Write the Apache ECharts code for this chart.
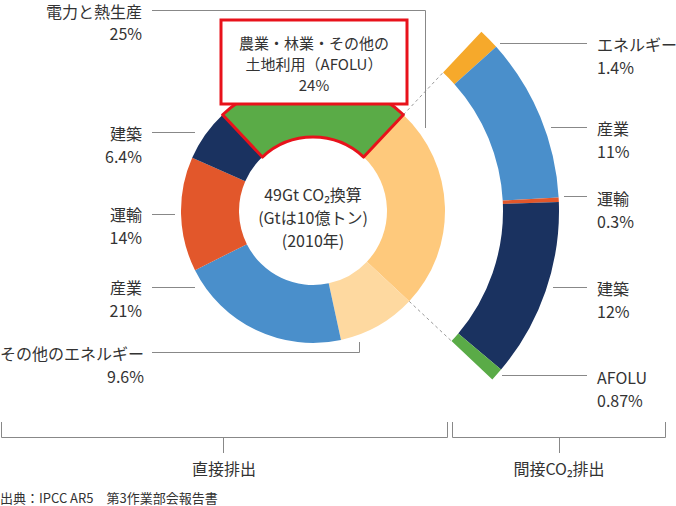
<!DOCTYPE html>
<html><head><meta charset="utf-8">
<script src="https://cdn.jsdelivr.net/npm/echarts@6/dist/echarts.min.js"></script>
<style>html,body{margin:0;padding:0;background:#fff}#c{width:676px;height:506px}</style>
</head><body><div id="c"></div>
<script>
// ---- data ----
const mainCategories = ['電力と熱生産', 'その他のエネルギー', '産業', '運輸', '建築', '農業・林業・その他の\n土地利用（AFOLU）'];
const mainValues = [25, 9.6, 21, 14, 6.4, 24];
const indirectCategories = ['エネルギー', '産業', '運輸', '建築', 'AFOLU'];
const indirectValues = [1.4, 11, 0.3, 12, 0.87];
const centerLines = ['49Gt CO₂換算', '(Gtは10億トン)', '(2010年)'];
const groupLabels = ['直接排出', '間接CO₂排出'];
const sourceText = '出典：IPCC AR5　第3作業部会報告書';

// ---- styles / layout ----
const FONT = "'Noto Sans CJK JP', 'Noto Sans', sans-serif";
const TXT = '#333';
const LINE = '#888';
const RED = '#e8121b';
const mainColors = ['#fec97c', '#fed9a0', '#4a8fcb', '#e2572b', '#1a3260', '#5aab47'];
const indirectColors = ['#f6a92b', '#4a8fcb', '#e2572b', '#1a3260', '#5aab47'];
const CX = 313, CY = 211;
const R_MAIN = [74, 132], R_ARC = [190, 246];

const mainLabelPos = [
  { x: 142, y: 0, align: 'right', line: [[425.5, 128], [425.5, 10.5], [152, 10.5]] },
  { x: 144, y: 341.5, align: 'right', line: [[359.5, 342], [359.5, 352.5], [152, 352.5]] },
  { x: 142, y: 275.5, align: 'right', line: [[195, 287.5], [173, 287.5], [152, 287.5]] },
  { x: 142, y: 202.5, align: 'right', line: [[175, 214.5], [163, 214.5], [152, 214.5]] },
  { x: 142, y: 121.5, align: 'right', line: [[195, 132.5], [173, 132.5], [152, 132.5]] },
  { x: 314, y: 21.5, align: 'center', line: [[314, 117], [314, 110], [314, 103]] }
];
const arcLabelPos = [
  { x: 597, y: 32.5, line: [[500, 43.5], [543, 43.5], [587, 43.5]] },
  { x: 597, y: 116.5, line: [[551, 127.5], [569, 127.5], [587, 127.5]] },
  { x: 597, y: 186.5, line: [[564, 196.5], [575, 196.5], [587, 196.5]] },
  { x: 597, y: 276.5, line: [[553, 287.5], [570, 287.5], [587, 287.5]] },
  { x: 597, y: 365.5, line: [[502, 375.5], [545, 375.5], [587, 375.5]] }
];

// angles derived from data
const mainTotal = mainValues.reduce((a, b) => a + b, 0);
const afoluIdx = mainValues.length - 1;
const startAngle = 90 - mainValues[afoluIdx] / mainTotal * 360 / 2;
const elecSpan = mainValues[0] / mainTotal * 360;
const elecEnd = startAngle - elecSpan;
const arcSum = indirectValues.reduce((a, b) => a + b, 0);
const arcFiller = arcSum * (360 - elecSpan) / elecSpan;

const mainData = mainCategories.map((n, i) => {
  const d = { name: n, value: mainValues[i], itemStyle: { color: mainColors[i] } };
  if (i === 0) {
    d.label = { lineHeight: 22 };
  }
  if (i === afoluIdx) {
    d.itemStyle.borderColor = RED;
    d.itemStyle.borderWidth = 3;
    d.label = {
      backgroundColor: '#fff', borderColor: RED, borderWidth: 3,
      padding: [10, 0, 8, 0], width: 183, align: 'center',
      fontSize: 15, lineHeight: 21
    };
    d.labelLine = { lineStyle: { color: RED, width: 3 } };
  }
  return d;
});
const arcData = indirectCategories.map((n, i) => ({ name: n, value: indirectValues[i], itemStyle: { color: indirectColors[i] } }));
arcData.push({ name: '', value: arcFiller, itemStyle: { color: 'rgba(0,0,0,0)' }, label: { show: false }, labelLine: { show: false } });

function radial(angleDeg, r) {
  const a = angleDeg * Math.PI / 180;
  return [CX + r * Math.cos(a), CY - r * Math.sin(a)];
}
const dashLines = [startAngle, elecEnd].map(a => ({
  type: 'line', silent: true,
  shape: { x1: radial(a, R_MAIN[1])[0], y1: radial(a, R_MAIN[1])[1], x2: radial(a, R_ARC[0])[0], y2: radial(a, R_ARC[0])[1] },
  style: { stroke: '#999', lineWidth: 1, lineDash: [3, 3] }
}));

const centerYs = [194, 217, 240];
const centerTexts = centerLines.map((t, i) => ({
  type: 'text', x: CX, y: centerYs[i], silent: true,
  style: { text: t, align: 'center', verticalAlign: 'middle', font: '16px ' + FONT, fill: TXT }
}));

const commonLabel = {
  show: true, position: 'outside', formatter: '{b}\n{c}%',
  color: TXT, fontSize: 16, lineHeight: 23, fontFamily: FONT
};
const commonLine = { show: true, length: 5, length2: 5, smooth: false, lineStyle: { color: LINE, width: 1 } };

const chart = echarts.init(document.getElementById('c'), null, { renderer: 'svg' });
chart.setOption({
  animation: false,
  backgroundColor: '#fff',
  series: [
    {
      type: 'pie', center: [CX, CY], radius: R_MAIN, startAngle: startAngle, clockwise: true,
      avoidLabelOverlap: false, silent: true, z: 2,
      label: commonLabel, labelLine: commonLine,
      labelLayout: function (p) {
        const L = mainLabelPos[p.dataIndex];
        if (!L) return {};
        return { x: L.x, y: L.y, align: L.align, verticalAlign: 'top', labelLinePoints: L.line };
      },
      data: mainData
    },
    {
      type: 'pie', center: [CX, CY], radius: R_ARC, startAngle: startAngle, clockwise: true,
      avoidLabelOverlap: false, silent: true, z: 2,
      label: commonLabel, labelLine: commonLine,
      labelLayout: function (p) {
        const L = arcLabelPos[p.dataIndex];
        if (!L) return {};
        return { x: L.x, y: L.y, align: 'left', verticalAlign: 'top', labelLinePoints: L.line };
      },
      data: arcData
    }
  ],
  graphic: [
    ...dashLines,
    ...centerTexts,
    { type: 'polyline', silent: true, shape: { points: [[1.5, 422], [1.5, 437.5], [447.5, 437.5], [447.5, 422]] }, style: { stroke: LINE, lineWidth: 1, fill: null } },
    { type: 'line', silent: true, shape: { x1: 223.5, y1: 437.5, x2: 223.5, y2: 453 }, style: { stroke: LINE, lineWidth: 1 } },
    { type: 'polyline', silent: true, shape: { points: [[452.5, 422], [452.5, 437.5], [665.5, 437.5], [665.5, 422]] }, style: { stroke: LINE, lineWidth: 1, fill: null } },
    { type: 'line', silent: true, shape: { x1: 559.5, y1: 437.5, x2: 559.5, y2: 453 }, style: { stroke: LINE, lineWidth: 1 } },
    {
      type: 'text', x: 224, y: 468, silent: true,
      style: { text: groupLabels[0], align: 'center', verticalAlign: 'middle', font: '16px ' + FONT, fill: TXT }
    },
    {
      type: 'text', x: 559, y: 468, silent: true,
      style: { text: groupLabels[1], align: 'center', verticalAlign: 'middle', font: '16px ' + FONT, fill: TXT }
    },
    {
      type: 'text', x: 0, y: 497, silent: true,
      style: { text: sourceText, align: 'left', verticalAlign: 'middle', font: '13px ' + FONT, fill: TXT }
    }
  ]
});
</script></body></html>
